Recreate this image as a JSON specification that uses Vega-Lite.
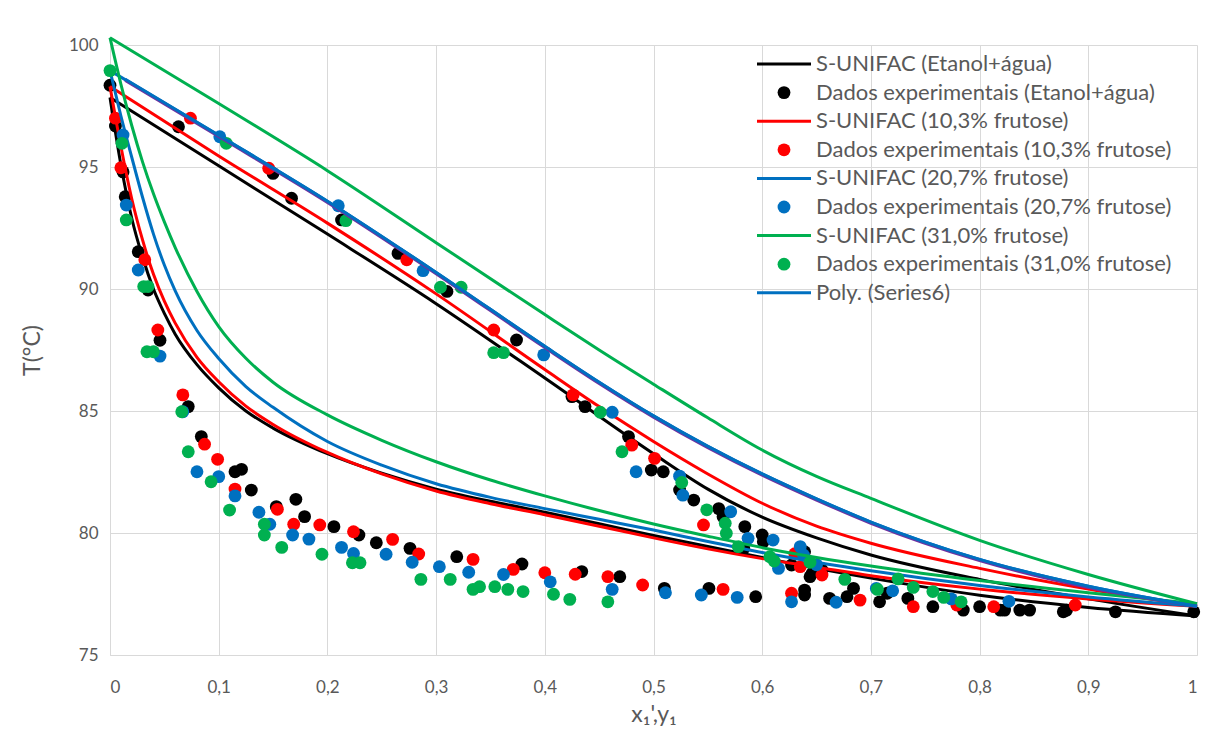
{
  "$schema": "https://vega.github.io/schema/vega-lite/v6.json",
  "width": 1087,
  "height": 610,
  "autosize": {"type": "none"},
  "padding": {"left": 110, "top": 45, "right": 19, "bottom": 78},
  "background": "white",
  "config": {
    "font": "Lato",
    "view": {"stroke": null},
    "axis": {"gridColor": "#d9d9d9", "gridWidth": 1, "domainColor": "#d9d9d9", "domainWidth": 1, "tickSize": 0, "labelColor": "#595959", "labelFont": "Lato", "labelFontSize": 17, "titleColor": "#595959", "titleFont": "Lato", "titleFontSize": 23, "titleFontWeight": "normal"}
  },
  "datasets": {
    "curves": [
      {"s": "S-UNIFAC (Etanol+água)", "b": "L", "x": 0, "T": 97.85},
      {"s": "S-UNIFAC (Etanol+água)", "b": "L", "x": 0.01, "T": 95.1},
      {"s": "S-UNIFAC (Etanol+água)", "b": "L", "x": 0.02, "T": 92.9},
      {"s": "S-UNIFAC (Etanol+água)", "b": "L", "x": 0.03, "T": 91.3},
      {"s": "S-UNIFAC (Etanol+água)", "b": "L", "x": 0.04, "T": 90.0},
      {"s": "S-UNIFAC (Etanol+água)", "b": "L", "x": 0.05, "T": 89.0},
      {"s": "S-UNIFAC (Etanol+água)", "b": "L", "x": 0.06, "T": 88.15},
      {"s": "S-UNIFAC (Etanol+água)", "b": "L", "x": 0.08, "T": 86.9},
      {"s": "S-UNIFAC (Etanol+água)", "b": "L", "x": 0.1, "T": 85.95},
      {"s": "S-UNIFAC (Etanol+água)", "b": "L", "x": 0.125, "T": 85.0},
      {"s": "S-UNIFAC (Etanol+água)", "b": "L", "x": 0.15, "T": 84.3},
      {"s": "S-UNIFAC (Etanol+água)", "b": "L", "x": 0.2, "T": 83.25},
      {"s": "S-UNIFAC (Etanol+água)", "b": "L", "x": 0.25, "T": 82.45},
      {"s": "S-UNIFAC (Etanol+água)", "b": "L", "x": 0.3, "T": 81.8},
      {"s": "S-UNIFAC (Etanol+água)", "b": "L", "x": 0.35, "T": 81.3},
      {"s": "S-UNIFAC (Etanol+água)", "b": "L", "x": 0.4, "T": 80.85},
      {"s": "S-UNIFAC (Etanol+água)", "b": "L", "x": 0.45, "T": 80.38},
      {"s": "S-UNIFAC (Etanol+água)", "b": "L", "x": 0.5, "T": 79.9},
      {"s": "S-UNIFAC (Etanol+água)", "b": "L", "x": 0.55, "T": 79.45},
      {"s": "S-UNIFAC (Etanol+água)", "b": "L", "x": 0.6, "T": 79.0},
      {"s": "S-UNIFAC (Etanol+água)", "b": "L", "x": 0.65, "T": 78.55},
      {"s": "S-UNIFAC (Etanol+água)", "b": "L", "x": 0.7, "T": 78.15},
      {"s": "S-UNIFAC (Etanol+água)", "b": "L", "x": 0.8, "T": 77.45},
      {"s": "S-UNIFAC (Etanol+água)", "b": "L", "x": 0.9, "T": 76.95},
      {"s": "S-UNIFAC (Etanol+água)", "b": "L", "x": 1.0, "T": 76.6},
      {"s": "S-UNIFAC (Etanol+água)", "b": "V", "x": 0, "T": 97.85},
      {"s": "S-UNIFAC (Etanol+água)", "b": "V", "x": 0.1, "T": 95.05},
      {"s": "S-UNIFAC (Etanol+água)", "b": "V", "x": 0.2, "T": 92.25},
      {"s": "S-UNIFAC (Etanol+água)", "b": "V", "x": 0.3, "T": 89.4},
      {"s": "S-UNIFAC (Etanol+água)", "b": "V", "x": 0.4, "T": 86.35},
      {"s": "S-UNIFAC (Etanol+água)", "b": "V", "x": 0.5, "T": 83.25},
      {"s": "S-UNIFAC (Etanol+água)", "b": "V", "x": 0.55, "T": 81.8},
      {"s": "S-UNIFAC (Etanol+água)", "b": "V", "x": 0.6, "T": 80.65},
      {"s": "S-UNIFAC (Etanol+água)", "b": "V", "x": 0.65, "T": 79.8},
      {"s": "S-UNIFAC (Etanol+água)", "b": "V", "x": 0.7, "T": 79.1},
      {"s": "S-UNIFAC (Etanol+água)", "b": "V", "x": 0.8, "T": 78.1},
      {"s": "S-UNIFAC (Etanol+água)", "b": "V", "x": 0.9, "T": 77.3},
      {"s": "S-UNIFAC (Etanol+água)", "b": "V", "x": 1.0, "T": 76.6},

      {"s": "S-UNIFAC (10,3% frutose)", "b": "L", "x": 0, "T": 98.3},
      {"s": "S-UNIFAC (10,3% frutose)", "b": "L", "x": 0.01, "T": 95.85},
      {"s": "S-UNIFAC (10,3% frutose)", "b": "L", "x": 0.02, "T": 93.7},
      {"s": "S-UNIFAC (10,3% frutose)", "b": "L", "x": 0.03, "T": 92.0},
      {"s": "S-UNIFAC (10,3% frutose)", "b": "L", "x": 0.04, "T": 90.6},
      {"s": "S-UNIFAC (10,3% frutose)", "b": "L", "x": 0.05, "T": 89.5},
      {"s": "S-UNIFAC (10,3% frutose)", "b": "L", "x": 0.06, "T": 88.6},
      {"s": "S-UNIFAC (10,3% frutose)", "b": "L", "x": 0.08, "T": 87.2},
      {"s": "S-UNIFAC (10,3% frutose)", "b": "L", "x": 0.1, "T": 86.2},
      {"s": "S-UNIFAC (10,3% frutose)", "b": "L", "x": 0.125, "T": 85.2},
      {"s": "S-UNIFAC (10,3% frutose)", "b": "L", "x": 0.15, "T": 84.45},
      {"s": "S-UNIFAC (10,3% frutose)", "b": "L", "x": 0.2, "T": 83.3},
      {"s": "S-UNIFAC (10,3% frutose)", "b": "L", "x": 0.25, "T": 82.42},
      {"s": "S-UNIFAC (10,3% frutose)", "b": "L", "x": 0.3, "T": 81.72},
      {"s": "S-UNIFAC (10,3% frutose)", "b": "L", "x": 0.35, "T": 81.2},
      {"s": "S-UNIFAC (10,3% frutose)", "b": "L", "x": 0.4, "T": 80.75},
      {"s": "S-UNIFAC (10,3% frutose)", "b": "L", "x": 0.45, "T": 80.28},
      {"s": "S-UNIFAC (10,3% frutose)", "b": "L", "x": 0.5, "T": 79.8},
      {"s": "S-UNIFAC (10,3% frutose)", "b": "L", "x": 0.55, "T": 79.35},
      {"s": "S-UNIFAC (10,3% frutose)", "b": "L", "x": 0.6, "T": 78.95},
      {"s": "S-UNIFAC (10,3% frutose)", "b": "L", "x": 0.65, "T": 78.6},
      {"s": "S-UNIFAC (10,3% frutose)", "b": "L", "x": 0.7, "T": 78.25},
      {"s": "S-UNIFAC (10,3% frutose)", "b": "L", "x": 0.8, "T": 77.7},
      {"s": "S-UNIFAC (10,3% frutose)", "b": "L", "x": 0.9, "T": 77.3},
      {"s": "S-UNIFAC (10,3% frutose)", "b": "L", "x": 1.0, "T": 77.0},
      {"s": "S-UNIFAC (10,3% frutose)", "b": "V", "x": 0, "T": 98.3},
      {"s": "S-UNIFAC (10,3% frutose)", "b": "V", "x": 0.1, "T": 95.45},
      {"s": "S-UNIFAC (10,3% frutose)", "b": "V", "x": 0.2, "T": 92.7},
      {"s": "S-UNIFAC (10,3% frutose)", "b": "V", "x": 0.3, "T": 89.8},
      {"s": "S-UNIFAC (10,3% frutose)", "b": "V", "x": 0.4, "T": 86.7},
      {"s": "S-UNIFAC (10,3% frutose)", "b": "V", "x": 0.45, "T": 85.18},
      {"s": "S-UNIFAC (10,3% frutose)", "b": "V", "x": 0.5, "T": 83.75},
      {"s": "S-UNIFAC (10,3% frutose)", "b": "V", "x": 0.55, "T": 82.42},
      {"s": "S-UNIFAC (10,3% frutose)", "b": "V", "x": 0.6, "T": 81.22},
      {"s": "S-UNIFAC (10,3% frutose)", "b": "V", "x": 0.65, "T": 80.28},
      {"s": "S-UNIFAC (10,3% frutose)", "b": "V", "x": 0.7, "T": 79.58},
      {"s": "S-UNIFAC (10,3% frutose)", "b": "V", "x": 0.8, "T": 78.55},
      {"s": "S-UNIFAC (10,3% frutose)", "b": "V", "x": 0.9, "T": 77.7},
      {"s": "S-UNIFAC (10,3% frutose)", "b": "V", "x": 1.0, "T": 77.0},

      {"s": "S-UNIFAC (20,7% frutose)", "b": "L", "x": 0, "T": 98.95},
      {"s": "S-UNIFAC (20,7% frutose)", "b": "L", "x": 0.01, "T": 97.1},
      {"s": "S-UNIFAC (20,7% frutose)", "b": "L", "x": 0.02, "T": 95.4},
      {"s": "S-UNIFAC (20,7% frutose)", "b": "L", "x": 0.03, "T": 93.75},
      {"s": "S-UNIFAC (20,7% frutose)", "b": "L", "x": 0.04, "T": 92.25},
      {"s": "S-UNIFAC (20,7% frutose)", "b": "L", "x": 0.05, "T": 90.98},
      {"s": "S-UNIFAC (20,7% frutose)", "b": "L", "x": 0.06, "T": 89.92},
      {"s": "S-UNIFAC (20,7% frutose)", "b": "L", "x": 0.08, "T": 88.3},
      {"s": "S-UNIFAC (20,7% frutose)", "b": "L", "x": 0.1, "T": 87.15},
      {"s": "S-UNIFAC (20,7% frutose)", "b": "L", "x": 0.125, "T": 86.0},
      {"s": "S-UNIFAC (20,7% frutose)", "b": "L", "x": 0.15, "T": 85.15},
      {"s": "S-UNIFAC (20,7% frutose)", "b": "L", "x": 0.2, "T": 83.75},
      {"s": "S-UNIFAC (20,7% frutose)", "b": "L", "x": 0.25, "T": 82.78},
      {"s": "S-UNIFAC (20,7% frutose)", "b": "L", "x": 0.3, "T": 82.02},
      {"s": "S-UNIFAC (20,7% frutose)", "b": "L", "x": 0.35, "T": 81.46},
      {"s": "S-UNIFAC (20,7% frutose)", "b": "L", "x": 0.4, "T": 81.0},
      {"s": "S-UNIFAC (20,7% frutose)", "b": "L", "x": 0.45, "T": 80.56},
      {"s": "S-UNIFAC (20,7% frutose)", "b": "L", "x": 0.5, "T": 80.12},
      {"s": "S-UNIFAC (20,7% frutose)", "b": "L", "x": 0.55, "T": 79.65},
      {"s": "S-UNIFAC (20,7% frutose)", "b": "L", "x": 0.6, "T": 79.2},
      {"s": "S-UNIFAC (20,7% frutose)", "b": "L", "x": 0.65, "T": 78.8},
      {"s": "S-UNIFAC (20,7% frutose)", "b": "L", "x": 0.7, "T": 78.45},
      {"s": "S-UNIFAC (20,7% frutose)", "b": "L", "x": 0.8, "T": 77.85},
      {"s": "S-UNIFAC (20,7% frutose)", "b": "L", "x": 0.9, "T": 77.38},
      {"s": "S-UNIFAC (20,7% frutose)", "b": "L", "x": 1.0, "T": 77.0},
      {"s": "S-UNIFAC (20,7% frutose)", "b": "V", "x": 0, "T": 98.95},
      {"s": "S-UNIFAC (20,7% frutose)", "b": "V", "x": 0.1, "T": 96.3},
      {"s": "S-UNIFAC (20,7% frutose)", "b": "V", "x": 0.2, "T": 93.6},
      {"s": "S-UNIFAC (20,7% frutose)", "b": "V", "x": 0.3, "T": 90.68},
      {"s": "S-UNIFAC (20,7% frutose)", "b": "V", "x": 0.4, "T": 87.65},
      {"s": "S-UNIFAC (20,7% frutose)", "b": "V", "x": 0.45, "T": 86.18},
      {"s": "S-UNIFAC (20,7% frutose)", "b": "V", "x": 0.5, "T": 84.8},
      {"s": "S-UNIFAC (20,7% frutose)", "b": "V", "x": 0.55, "T": 83.55},
      {"s": "S-UNIFAC (20,7% frutose)", "b": "V", "x": 0.6, "T": 82.42},
      {"s": "S-UNIFAC (20,7% frutose)", "b": "V", "x": 0.65, "T": 81.4},
      {"s": "S-UNIFAC (20,7% frutose)", "b": "V", "x": 0.7, "T": 80.45},
      {"s": "S-UNIFAC (20,7% frutose)", "b": "V", "x": 0.8, "T": 78.92},
      {"s": "S-UNIFAC (20,7% frutose)", "b": "V", "x": 0.9, "T": 77.82},
      {"s": "S-UNIFAC (20,7% frutose)", "b": "V", "x": 1.0, "T": 77.0},

      {"s": "S-UNIFAC (31,0% frutose)", "b": "L", "x": 0, "T": 100.3},
      {"s": "S-UNIFAC (31,0% frutose)", "b": "L", "x": 0.01, "T": 98.4},
      {"s": "S-UNIFAC (31,0% frutose)", "b": "L", "x": 0.02, "T": 96.7},
      {"s": "S-UNIFAC (31,0% frutose)", "b": "L", "x": 0.03, "T": 95.2},
      {"s": "S-UNIFAC (31,0% frutose)", "b": "L", "x": 0.04, "T": 93.9},
      {"s": "S-UNIFAC (31,0% frutose)", "b": "L", "x": 0.05, "T": 92.75},
      {"s": "S-UNIFAC (31,0% frutose)", "b": "L", "x": 0.06, "T": 91.7},
      {"s": "S-UNIFAC (31,0% frutose)", "b": "L", "x": 0.08, "T": 89.9},
      {"s": "S-UNIFAC (31,0% frutose)", "b": "L", "x": 0.1, "T": 88.46},
      {"s": "S-UNIFAC (31,0% frutose)", "b": "L", "x": 0.125, "T": 87.16},
      {"s": "S-UNIFAC (31,0% frutose)", "b": "L", "x": 0.15, "T": 86.18},
      {"s": "S-UNIFAC (31,0% frutose)", "b": "L", "x": 0.2, "T": 84.84},
      {"s": "S-UNIFAC (31,0% frutose)", "b": "L", "x": 0.25, "T": 83.8},
      {"s": "S-UNIFAC (31,0% frutose)", "b": "L", "x": 0.3, "T": 82.92},
      {"s": "S-UNIFAC (31,0% frutose)", "b": "L", "x": 0.35, "T": 82.17},
      {"s": "S-UNIFAC (31,0% frutose)", "b": "L", "x": 0.4, "T": 81.52},
      {"s": "S-UNIFAC (31,0% frutose)", "b": "L", "x": 0.45, "T": 80.92},
      {"s": "S-UNIFAC (31,0% frutose)", "b": "L", "x": 0.5, "T": 80.37},
      {"s": "S-UNIFAC (31,0% frutose)", "b": "L", "x": 0.55, "T": 79.87},
      {"s": "S-UNIFAC (31,0% frutose)", "b": "L", "x": 0.6, "T": 79.4},
      {"s": "S-UNIFAC (31,0% frutose)", "b": "L", "x": 0.65, "T": 79.0},
      {"s": "S-UNIFAC (31,0% frutose)", "b": "L", "x": 0.7, "T": 78.65},
      {"s": "S-UNIFAC (31,0% frutose)", "b": "L", "x": 0.8, "T": 78.05},
      {"s": "S-UNIFAC (31,0% frutose)", "b": "L", "x": 0.9, "T": 77.55},
      {"s": "S-UNIFAC (31,0% frutose)", "b": "L", "x": 1.0, "T": 77.1},
      {"s": "S-UNIFAC (31,0% frutose)", "b": "V", "x": 0, "T": 100.3},
      {"s": "S-UNIFAC (31,0% frutose)", "b": "V", "x": 0.1, "T": 97.6},
      {"s": "S-UNIFAC (31,0% frutose)", "b": "V", "x": 0.2, "T": 94.85},
      {"s": "S-UNIFAC (31,0% frutose)", "b": "V", "x": 0.3, "T": 91.9},
      {"s": "S-UNIFAC (31,0% frutose)", "b": "V", "x": 0.4, "T": 88.95},
      {"s": "S-UNIFAC (31,0% frutose)", "b": "V", "x": 0.45, "T": 87.5},
      {"s": "S-UNIFAC (31,0% frutose)", "b": "V", "x": 0.5, "T": 86.1},
      {"s": "S-UNIFAC (31,0% frutose)", "b": "V", "x": 0.55, "T": 84.72},
      {"s": "S-UNIFAC (31,0% frutose)", "b": "V", "x": 0.6, "T": 83.4},
      {"s": "S-UNIFAC (31,0% frutose)", "b": "V", "x": 0.65, "T": 82.32},
      {"s": "S-UNIFAC (31,0% frutose)", "b": "V", "x": 0.7, "T": 81.42},
      {"s": "S-UNIFAC (31,0% frutose)", "b": "V", "x": 0.8, "T": 79.7},
      {"s": "S-UNIFAC (31,0% frutose)", "b": "V", "x": 0.9, "T": 78.3},
      {"s": "S-UNIFAC (31,0% frutose)", "b": "V", "x": 1.0, "T": 77.1},

      {"s": "Series6", "b": "V", "x": 0.014, "T": 98.55},
      {"s": "Series6", "b": "V", "x": 0.1, "T": 96.25},
      {"s": "Series6", "b": "V", "x": 0.2, "T": 93.55},
      {"s": "Series6", "b": "V", "x": 0.3, "T": 90.63},
      {"s": "Series6", "b": "V", "x": 0.4, "T": 87.6},
      {"s": "Series6", "b": "V", "x": 0.45, "T": 86.13},
      {"s": "Series6", "b": "V", "x": 0.5, "T": 84.75},
      {"s": "Series6", "b": "V", "x": 0.55, "T": 83.5},
      {"s": "Series6", "b": "V", "x": 0.6, "T": 82.37},
      {"s": "Series6", "b": "V", "x": 0.65, "T": 81.35},
      {"s": "Series6", "b": "V", "x": 0.7, "T": 80.4},
      {"s": "Series6", "b": "V", "x": 0.8, "T": 78.87},
      {"s": "Series6", "b": "V", "x": 0.9, "T": 77.77},
      {"s": "Series6", "b": "V", "x": 1.0, "T": 77.0},

      {"s": "Poly. (Series6)", "b": "V", "x": 0.014, "T": 98.6},
      {"s": "Poly. (Series6)", "b": "V", "x": 0.1, "T": 96.3},
      {"s": "Poly. (Series6)", "b": "V", "x": 0.2, "T": 93.6},
      {"s": "Poly. (Series6)", "b": "V", "x": 0.3, "T": 90.68},
      {"s": "Poly. (Series6)", "b": "V", "x": 0.4, "T": 87.65},
      {"s": "Poly. (Series6)", "b": "V", "x": 0.45, "T": 86.18},
      {"s": "Poly. (Series6)", "b": "V", "x": 0.5, "T": 84.8},
      {"s": "Poly. (Series6)", "b": "V", "x": 0.55, "T": 83.55},
      {"s": "Poly. (Series6)", "b": "V", "x": 0.6, "T": 82.42},
      {"s": "Poly. (Series6)", "b": "V", "x": 0.65, "T": 81.4},
      {"s": "Poly. (Series6)", "b": "V", "x": 0.7, "T": 80.45},
      {"s": "Poly. (Series6)", "b": "V", "x": 0.8, "T": 78.92},
      {"s": "Poly. (Series6)", "b": "V", "x": 0.9, "T": 77.82},
      {"s": "Poly. (Series6)", "b": "V", "x": 1.0, "T": 77.0}
    ],
    "pts": [
      {"s": "Dados experimentais (Etanol+água)", "x": 0, "T": 98.35},
      {"s": "Dados experimentais (Etanol+água)", "x": 0.005, "T": 96.68},
      {"s": "Dados experimentais (Etanol+água)", "x": 0.012, "T": 94.8},
      {"s": "Dados experimentais (Etanol+água)", "x": 0.014, "T": 93.78},
      {"s": "Dados experimentais (Etanol+água)", "x": 0.026, "T": 91.53},
      {"s": "Dados experimentais (Etanol+água)", "x": 0.035, "T": 89.96},
      {"s": "Dados experimentais (Etanol+água)", "x": 0.046, "T": 87.9},
      {"s": "Dados experimentais (Etanol+água)", "x": 0.072, "T": 85.18},
      {"s": "Dados experimentais (Etanol+água)", "x": 0.084, "T": 83.95},
      {"s": "Dados experimentais (Etanol+água)", "x": 0.115, "T": 82.51},
      {"s": "Dados experimentais (Etanol+água)", "x": 0.121, "T": 82.61},
      {"s": "Dados experimentais (Etanol+água)", "x": 0.13, "T": 81.76},
      {"s": "Dados experimentais (Etanol+água)", "x": 0.153, "T": 81.08},
      {"s": "Dados experimentais (Etanol+água)", "x": 0.171, "T": 81.38},
      {"s": "Dados experimentais (Etanol+água)", "x": 0.179, "T": 80.67},
      {"s": "Dados experimentais (Etanol+água)", "x": 0.206, "T": 80.26},
      {"s": "Dados experimentais (Etanol+água)", "x": 0.229, "T": 79.92},
      {"s": "Dados experimentais (Etanol+água)", "x": 0.245, "T": 79.6},
      {"s": "Dados experimentais (Etanol+água)", "x": 0.276, "T": 79.37},
      {"s": "Dados experimentais (Etanol+água)", "x": 0.319, "T": 79.03},
      {"s": "Dados experimentais (Etanol+água)", "x": 0.379, "T": 78.73},
      {"s": "Dados experimentais (Etanol+água)", "x": 0.434, "T": 78.42},
      {"s": "Dados experimentais (Etanol+água)", "x": 0.469, "T": 78.21},
      {"s": "Dados experimentais (Etanol+água)", "x": 0.51, "T": 77.73},
      {"s": "Dados experimentais (Etanol+água)", "x": 0.551, "T": 77.73},
      {"s": "Dados experimentais (Etanol+água)", "x": 0.594, "T": 77.39},
      {"s": "Dados experimentais (Etanol+água)", "x": 0.639, "T": 77.66},
      {"s": "Dados experimentais (Etanol+água)", "x": 0.639, "T": 77.46},
      {"s": "Dados experimentais (Etanol+água)", "x": 0.644, "T": 78.21},
      {"s": "Dados experimentais (Etanol+água)", "x": 0.655, "T": 78.48},
      {"s": "Dados experimentais (Etanol+água)", "x": 0.662, "T": 77.32},
      {"s": "Dados experimentais (Etanol+água)", "x": 0.678, "T": 77.39},
      {"s": "Dados experimentais (Etanol+água)", "x": 0.684, "T": 77.73},
      {"s": "Dados experimentais (Etanol+água)", "x": 0.708, "T": 77.18},
      {"s": "Dados experimentais (Etanol+água)", "x": 0.715, "T": 77.53},
      {"s": "Dados experimentais (Etanol+água)", "x": 0.734, "T": 77.32},
      {"s": "Dados experimentais (Etanol+água)", "x": 0.757, "T": 76.98},
      {"s": "Dados experimentais (Etanol+água)", "x": 0.785, "T": 76.84},
      {"s": "Dados experimentais (Etanol+água)", "x": 0.8, "T": 76.98},
      {"s": "Dados experimentais (Etanol+água)", "x": 0.819, "T": 76.84},
      {"s": "Dados experimentais (Etanol+água)", "x": 0.823, "T": 76.84},
      {"s": "Dados experimentais (Etanol+água)", "x": 0.837, "T": 76.84},
      {"s": "Dados experimentais (Etanol+água)", "x": 0.846, "T": 76.84},
      {"s": "Dados experimentais (Etanol+água)", "x": 0.877, "T": 76.77},
      {"s": "Dados experimentais (Etanol+água)", "x": 0.88, "T": 76.84},
      {"s": "Dados experimentais (Etanol+água)", "x": 0.925, "T": 76.77},
      {"s": "Dados experimentais (Etanol+água)", "x": 0.997, "T": 76.77},
      {"s": "Dados experimentais (Etanol+água)", "x": 0.063, "T": 96.65},
      {"s": "Dados experimentais (Etanol+água)", "x": 0.15, "T": 94.74},
      {"s": "Dados experimentais (Etanol+água)", "x": 0.167, "T": 93.72},
      {"s": "Dados experimentais (Etanol+água)", "x": 0.213, "T": 92.83},
      {"s": "Dados experimentais (Etanol+água)", "x": 0.265, "T": 91.46},
      {"s": "Dados experimentais (Etanol+água)", "x": 0.31, "T": 89.9},
      {"s": "Dados experimentais (Etanol+água)", "x": 0.374, "T": 87.91},
      {"s": "Dados experimentais (Etanol+água)", "x": 0.425, "T": 85.59},
      {"s": "Dados experimentais (Etanol+água)", "x": 0.437, "T": 85.18},
      {"s": "Dados experimentais (Etanol+água)", "x": 0.477, "T": 83.95},
      {"s": "Dados experimentais (Etanol+água)", "x": 0.498, "T": 82.58},
      {"s": "Dados experimentais (Etanol+água)", "x": 0.509, "T": 82.51},
      {"s": "Dados experimentais (Etanol+água)", "x": 0.524, "T": 81.76},
      {"s": "Dados experimentais (Etanol+água)", "x": 0.537, "T": 81.35},
      {"s": "Dados experimentais (Etanol+água)", "x": 0.56, "T": 81.0},
      {"s": "Dados experimentais (Etanol+água)", "x": 0.564, "T": 80.67},
      {"s": "Dados experimentais (Etanol+água)", "x": 0.584, "T": 80.26},
      {"s": "Dados experimentais (Etanol+água)", "x": 0.6, "T": 79.92},
      {"s": "Dados experimentais (Etanol+água)", "x": 0.601, "T": 79.64},
      {"s": "Dados experimentais (Etanol+água)", "x": 0.583, "T": 79.37},
      {"s": "Dados experimentais (Etanol+água)", "x": 0.627, "T": 78.69},
      {"s": "Dados experimentais (Etanol+água)", "x": 0.646, "T": 78.35},
      {"s": "Dados experimentais (Etanol+água)", "x": 0.653, "T": 78.42},
      {"s": "Dados experimentais (Etanol+água)", "x": 0.639, "T": 79.23},

      {"s": "Dados experimentais (10,3% frutose)", "x": 0.005, "T": 97.0},
      {"s": "Dados experimentais (10,3% frutose)", "x": 0.01, "T": 94.97},
      {"s": "Dados experimentais (10,3% frutose)", "x": 0.032, "T": 91.2},
      {"s": "Dados experimentais (10,3% frutose)", "x": 0.044, "T": 88.32},
      {"s": "Dados experimentais (10,3% frutose)", "x": 0.067, "T": 85.66},
      {"s": "Dados experimentais (10,3% frutose)", "x": 0.087, "T": 83.64},
      {"s": "Dados experimentais (10,3% frutose)", "x": 0.099, "T": 83.02},
      {"s": "Dados experimentais (10,3% frutose)", "x": 0.115, "T": 81.8},
      {"s": "Dados experimentais (10,3% frutose)", "x": 0.154, "T": 80.97},
      {"s": "Dados experimentais (10,3% frutose)", "x": 0.169, "T": 80.36},
      {"s": "Dados experimentais (10,3% frutose)", "x": 0.193, "T": 80.33},
      {"s": "Dados experimentais (10,3% frutose)", "x": 0.224, "T": 80.05},
      {"s": "Dados experimentais (10,3% frutose)", "x": 0.26, "T": 79.74},
      {"s": "Dados experimentais (10,3% frutose)", "x": 0.284, "T": 79.14},
      {"s": "Dados experimentais (10,3% frutose)", "x": 0.334, "T": 78.92},
      {"s": "Dados experimentais (10,3% frutose)", "x": 0.371, "T": 78.51},
      {"s": "Dados experimentais (10,3% frutose)", "x": 0.4, "T": 78.37},
      {"s": "Dados experimentais (10,3% frutose)", "x": 0.428, "T": 78.31},
      {"s": "Dados experimentais (10,3% frutose)", "x": 0.458, "T": 78.21},
      {"s": "Dados experimentais (10,3% frutose)", "x": 0.49, "T": 77.87},
      {"s": "Dados experimentais (10,3% frutose)", "x": 0.564, "T": 77.69},
      {"s": "Dados experimentais (10,3% frutose)", "x": 0.627, "T": 77.53},
      {"s": "Dados experimentais (10,3% frutose)", "x": 0.69, "T": 77.25},
      {"s": "Dados experimentais (10,3% frutose)", "x": 0.739, "T": 76.98},
      {"s": "Dados experimentais (10,3% frutose)", "x": 0.779, "T": 77.05},
      {"s": "Dados experimentais (10,3% frutose)", "x": 0.813, "T": 76.98},
      {"s": "Dados experimentais (10,3% frutose)", "x": 0.888, "T": 77.05},
      {"s": "Dados experimentais (10,3% frutose)", "x": 0.074, "T": 97.0},
      {"s": "Dados experimentais (10,3% frutose)", "x": 0.146, "T": 94.95},
      {"s": "Dados experimentais (10,3% frutose)", "x": 0.273, "T": 91.2},
      {"s": "Dados experimentais (10,3% frutose)", "x": 0.353, "T": 88.32},
      {"s": "Dados experimentais (10,3% frutose)", "x": 0.426, "T": 85.66},
      {"s": "Dados experimentais (10,3% frutose)", "x": 0.48, "T": 83.6},
      {"s": "Dados experimentais (10,3% frutose)", "x": 0.501, "T": 83.06},
      {"s": "Dados experimentais (10,3% frutose)", "x": 0.546, "T": 80.33},
      {"s": "Dados experimentais (10,3% frutose)", "x": 0.63, "T": 79.15},
      {"s": "Dados experimentais (10,3% frutose)", "x": 0.635, "T": 78.62},
      {"s": "Dados experimentais (10,3% frutose)", "x": 0.655, "T": 78.28},

      {"s": "Dados experimentais (20,7% frutose)", "x": 0.012, "T": 96.31},
      {"s": "Dados experimentais (20,7% frutose)", "x": 0.015, "T": 93.44},
      {"s": "Dados experimentais (20,7% frutose)", "x": 0.026, "T": 90.78},
      {"s": "Dados experimentais (20,7% frutose)", "x": 0.046, "T": 87.25},
      {"s": "Dados experimentais (20,7% frutose)", "x": 0.067, "T": 84.97},
      {"s": "Dados experimentais (20,7% frutose)", "x": 0.08, "T": 82.51},
      {"s": "Dados experimentais (20,7% frutose)", "x": 0.1, "T": 82.31},
      {"s": "Dados experimentais (20,7% frutose)", "x": 0.115, "T": 81.52},
      {"s": "Dados experimentais (20,7% frutose)", "x": 0.137, "T": 80.85},
      {"s": "Dados experimentais (20,7% frutose)", "x": 0.147, "T": 80.36},
      {"s": "Dados experimentais (20,7% frutose)", "x": 0.168, "T": 79.92},
      {"s": "Dados experimentais (20,7% frutose)", "x": 0.183, "T": 79.75},
      {"s": "Dados experimentais (20,7% frutose)", "x": 0.213, "T": 79.41},
      {"s": "Dados experimentais (20,7% frutose)", "x": 0.224, "T": 79.16},
      {"s": "Dados experimentais (20,7% frutose)", "x": 0.254, "T": 79.13},
      {"s": "Dados experimentais (20,7% frutose)", "x": 0.278, "T": 78.8},
      {"s": "Dados experimentais (20,7% frutose)", "x": 0.303, "T": 78.62},
      {"s": "Dados experimentais (20,7% frutose)", "x": 0.33, "T": 78.39},
      {"s": "Dados experimentais (20,7% frutose)", "x": 0.362, "T": 78.3},
      {"s": "Dados experimentais (20,7% frutose)", "x": 0.405, "T": 78.0},
      {"s": "Dados experimentais (20,7% frutose)", "x": 0.462, "T": 77.69},
      {"s": "Dados experimentais (20,7% frutose)", "x": 0.511, "T": 77.55},
      {"s": "Dados experimentais (20,7% frutose)", "x": 0.544, "T": 77.46},
      {"s": "Dados experimentais (20,7% frutose)", "x": 0.577, "T": 77.36},
      {"s": "Dados experimentais (20,7% frutose)", "x": 0.627, "T": 77.18},
      {"s": "Dados experimentais (20,7% frutose)", "x": 0.668, "T": 77.16},
      {"s": "Dados experimentais (20,7% frutose)", "x": 0.705, "T": 77.73},
      {"s": "Dados experimentais (20,7% frutose)", "x": 0.72, "T": 77.63},
      {"s": "Dados experimentais (20,7% frutose)", "x": 0.774, "T": 77.3},
      {"s": "Dados experimentais (20,7% frutose)", "x": 0.827, "T": 77.2},
      {"s": "Dados experimentais (20,7% frutose)", "x": 0.101, "T": 96.24},
      {"s": "Dados experimentais (20,7% frutose)", "x": 0.21, "T": 93.41},
      {"s": "Dados experimentais (20,7% frutose)", "x": 0.288, "T": 90.75},
      {"s": "Dados experimentais (20,7% frutose)", "x": 0.399, "T": 87.3},
      {"s": "Dados experimentais (20,7% frutose)", "x": 0.462, "T": 84.95},
      {"s": "Dados experimentais (20,7% frutose)", "x": 0.484, "T": 82.51},
      {"s": "Dados experimentais (20,7% frutose)", "x": 0.524, "T": 82.33},
      {"s": "Dados experimentais (20,7% frutose)", "x": 0.527, "T": 81.55},
      {"s": "Dados experimentais (20,7% frutose)", "x": 0.571, "T": 80.87},
      {"s": "Dados experimentais (20,7% frutose)", "x": 0.587, "T": 79.78},
      {"s": "Dados experimentais (20,7% frutose)", "x": 0.61, "T": 79.71},
      {"s": "Dados experimentais (20,7% frutose)", "x": 0.615, "T": 78.55},
      {"s": "Dados experimentais (20,7% frutose)", "x": 0.635, "T": 79.44},
      {"s": "Dados experimentais (20,7% frutose)", "x": 0.638, "T": 79.1},
      {"s": "Dados experimentais (20,7% frutose)", "x": 0.65, "T": 78.7},

      {"s": "Dados experimentais (31,0% frutose)", "x": 0, "T": 98.95},
      {"s": "Dados experimentais (31,0% frutose)", "x": 0.011, "T": 95.97},
      {"s": "Dados experimentais (31,0% frutose)", "x": 0.015, "T": 92.83},
      {"s": "Dados experimentais (31,0% frutose)", "x": 0.031, "T": 90.1},
      {"s": "Dados experimentais (31,0% frutose)", "x": 0.035, "T": 90.1},
      {"s": "Dados experimentais (31,0% frutose)", "x": 0.034, "T": 87.43},
      {"s": "Dados experimentais (31,0% frutose)", "x": 0.04, "T": 87.43},
      {"s": "Dados experimentais (31,0% frutose)", "x": 0.066, "T": 84.97},
      {"s": "Dados experimentais (31,0% frutose)", "x": 0.072, "T": 83.33},
      {"s": "Dados experimentais (31,0% frutose)", "x": 0.093, "T": 82.1},
      {"s": "Dados experimentais (31,0% frutose)", "x": 0.11, "T": 80.94},
      {"s": "Dados experimentais (31,0% frutose)", "x": 0.142, "T": 80.36},
      {"s": "Dados experimentais (31,0% frutose)", "x": 0.142, "T": 79.92},
      {"s": "Dados experimentais (31,0% frutose)", "x": 0.158, "T": 79.41},
      {"s": "Dados experimentais (31,0% frutose)", "x": 0.195, "T": 79.13},
      {"s": "Dados experimentais (31,0% frutose)", "x": 0.223, "T": 78.78},
      {"s": "Dados experimentais (31,0% frutose)", "x": 0.23, "T": 78.78},
      {"s": "Dados experimentais (31,0% frutose)", "x": 0.286, "T": 78.1},
      {"s": "Dados experimentais (31,0% frutose)", "x": 0.313, "T": 78.1},
      {"s": "Dados experimentais (31,0% frutose)", "x": 0.334, "T": 77.69},
      {"s": "Dados experimentais (31,0% frutose)", "x": 0.34, "T": 77.8},
      {"s": "Dados experimentais (31,0% frutose)", "x": 0.354, "T": 77.8},
      {"s": "Dados experimentais (31,0% frutose)", "x": 0.366, "T": 77.69},
      {"s": "Dados experimentais (31,0% frutose)", "x": 0.38, "T": 77.6},
      {"s": "Dados experimentais (31,0% frutose)", "x": 0.408, "T": 77.49},
      {"s": "Dados experimentais (31,0% frutose)", "x": 0.423, "T": 77.28},
      {"s": "Dados experimentais (31,0% frutose)", "x": 0.458, "T": 77.18},
      {"s": "Dados experimentais (31,0% frutose)", "x": 0.107, "T": 95.97},
      {"s": "Dados experimentais (31,0% frutose)", "x": 0.217, "T": 92.8},
      {"s": "Dados experimentais (31,0% frutose)", "x": 0.304, "T": 90.07},
      {"s": "Dados experimentais (31,0% frutose)", "x": 0.323, "T": 90.07},
      {"s": "Dados experimentais (31,0% frutose)", "x": 0.353, "T": 87.39},
      {"s": "Dados experimentais (31,0% frutose)", "x": 0.362, "T": 87.39},
      {"s": "Dados experimentais (31,0% frutose)", "x": 0.451, "T": 84.95},
      {"s": "Dados experimentais (31,0% frutose)", "x": 0.471, "T": 83.33},
      {"s": "Dados experimentais (31,0% frutose)", "x": 0.526, "T": 82.07},
      {"s": "Dados experimentais (31,0% frutose)", "x": 0.549, "T": 80.95},
      {"s": "Dados experimentais (31,0% frutose)", "x": 0.566, "T": 80.4},
      {"s": "Dados experimentais (31,0% frutose)", "x": 0.567, "T": 79.99},
      {"s": "Dados experimentais (31,0% frutose)", "x": 0.578, "T": 79.44},
      {"s": "Dados experimentais (31,0% frutose)", "x": 0.607, "T": 79.03},
      {"s": "Dados experimentais (31,0% frutose)", "x": 0.611, "T": 78.85},
      {"s": "Dados experimentais (31,0% frutose)", "x": 0.644, "T": 78.8},
      {"s": "Dados experimentais (31,0% frutose)", "x": 0.676, "T": 78.1},
      {"s": "Dados experimentais (31,0% frutose)", "x": 0.706, "T": 77.69},
      {"s": "Dados experimentais (31,0% frutose)", "x": 0.725, "T": 78.12},
      {"s": "Dados experimentais (31,0% frutose)", "x": 0.739, "T": 77.77},
      {"s": "Dados experimentais (31,0% frutose)", "x": 0.757, "T": 77.6},
      {"s": "Dados experimentais (31,0% frutose)", "x": 0.767, "T": 77.36},
      {"s": "Dados experimentais (31,0% frutose)", "x": 0.783, "T": 77.18}
    ]
  },
  "encoding": {
    "x": {"field": "x", "type": "quantitative", "scale": {"domain": [0, 1], "nice": false},
      "axis": {"values": [0, 0.1, 0.2, 0.3, 0.4, 0.5, 0.6, 0.7, 0.8, 0.9, 1], "labelExpr": "replace(format(datum.value, '.1~f'), '.', ',')", "labelPadding": 24, "titlePadding": 8, "title": "x₁',y₁"}},
    "y": {"field": "T", "type": "quantitative", "scale": {"domain": [75, 100], "nice": false, "zero": false},
      "axis": {"values": [75, 80, 85, 90, 95, 100], "labelPadding": 12, "titlePadding": 24, "title": "T(°C)"}}
  },
  "layer": [
    {"data": {"name": "curves"}, "transform": [{"filter": "datum.s === 'S-UNIFAC (Etanol+água)'"}],
     "mark": {"type": "line", "strokeWidth": 3, "interpolate": "monotone"},
     "encoding": {"detail": {"field": "b", "type": "nominal"},
       "color": {"field": "s", "type": "nominal",
         "scale": {"domain": ["S-UNIFAC (Etanol+água)", "Dados experimentais (Etanol+água)", "S-UNIFAC (10,3% frutose)", "Dados experimentais (10,3% frutose)", "S-UNIFAC (20,7% frutose)", "Dados experimentais (20,7% frutose)", "S-UNIFAC (31,0% frutose)", "Dados experimentais (31,0% frutose)", "Poly. (Series6)"],
                   "range": ["#000000", "#000000", "#ff0000", "#ff0000", "#0070c0", "#0070c0", "#00b050", "#00b050", "#0070c0"]},
         "legend": {"title": null, "orient": "none", "legendX": 663, "legendY": 8, "padding": 0,
           "labelFont": "Lato", "labelFontSize": 22, "labelColor": "#595959", "labelLimit": 600,
           "symbolType": "stroke", "symbolSize": 2916, "symbolStrokeWidth": 3, "labelOffset": 21, "rowPadding": 6.6,
           "encode": {"symbols": {"update": {
             "shape": {"signal": "indexof('' + (datum.value || datum), 'Dados') === 0 ? 'circle' : 'stroke'"},
             "size": {"signal": "indexof('' + (datum.value || datum), 'Dados') === 0 ? 165 : 2916"},
             "fill": {"signal": "indexof('' + (datum.value || datum), 'Dados') === 0 ? scale('color', datum.value) : 'transparent'"},
             "stroke": {"signal": "scale('color', datum.value)"},
             "strokeWidth": {"signal": "indexof('' + (datum.value || datum), 'Dados') === 0 ? 0 : 3"},
             "opacity": {"value": 1}
           }}}}}}},
    {"data": {"name": "pts"}, "transform": [{"filter": "datum.s === 'Dados experimentais (Etanol+água)'"}],
     "mark": {"type": "point", "shape": "circle", "filled": true, "size": 165, "opacity": 1},
     "encoding": {"color": {"field": "s", "type": "nominal"}}},
    {"data": {"name": "curves"}, "transform": [{"filter": "datum.s === 'S-UNIFAC (10,3% frutose)'"}],
     "mark": {"type": "line", "strokeWidth": 3, "interpolate": "monotone"},
     "encoding": {"detail": {"field": "b", "type": "nominal"}, "color": {"field": "s", "type": "nominal"}}},
    {"data": {"name": "pts"}, "transform": [{"filter": "datum.s === 'Dados experimentais (10,3% frutose)'"}],
     "mark": {"type": "point", "shape": "circle", "filled": true, "size": 165, "opacity": 1},
     "encoding": {"color": {"field": "s", "type": "nominal"}}},
    {"data": {"name": "curves"}, "transform": [{"filter": "datum.s === 'S-UNIFAC (20,7% frutose)'"}],
     "mark": {"type": "line", "strokeWidth": 3, "interpolate": "monotone"},
     "encoding": {"detail": {"field": "b", "type": "nominal"}, "color": {"field": "s", "type": "nominal"}}},
    {"data": {"name": "pts"}, "transform": [{"filter": "datum.s === 'Dados experimentais (20,7% frutose)'"}],
     "mark": {"type": "point", "shape": "circle", "filled": true, "size": 165, "opacity": 1},
     "encoding": {"color": {"field": "s", "type": "nominal"}}},
    {"data": {"name": "curves"}, "transform": [{"filter": "datum.s === 'S-UNIFAC (31,0% frutose)'"}],
     "mark": {"type": "line", "strokeWidth": 3, "interpolate": "monotone"},
     "encoding": {"detail": {"field": "b", "type": "nominal"}, "color": {"field": "s", "type": "nominal"}}},
    {"data": {"name": "pts"}, "transform": [{"filter": "datum.s === 'Dados experimentais (31,0% frutose)'"}],
     "mark": {"type": "point", "shape": "circle", "filled": true, "size": 165, "opacity": 1},
     "encoding": {"color": {"field": "s", "type": "nominal"}}},
    {"data": {"name": "curves"}, "transform": [{"filter": "datum.s === 'Series6'"}],
     "mark": {"type": "line", "strokeWidth": 3, "color": "#7030a0", "interpolate": "monotone"},
     "encoding": {}},
    {"data": {"name": "curves"}, "transform": [{"filter": "datum.s === 'Poly. (Series6)'"}],
     "mark": {"type": "line", "strokeWidth": 3, "interpolate": "monotone"},
     "encoding": {"color": {"field": "s", "type": "nominal"}}}
  ]
}
